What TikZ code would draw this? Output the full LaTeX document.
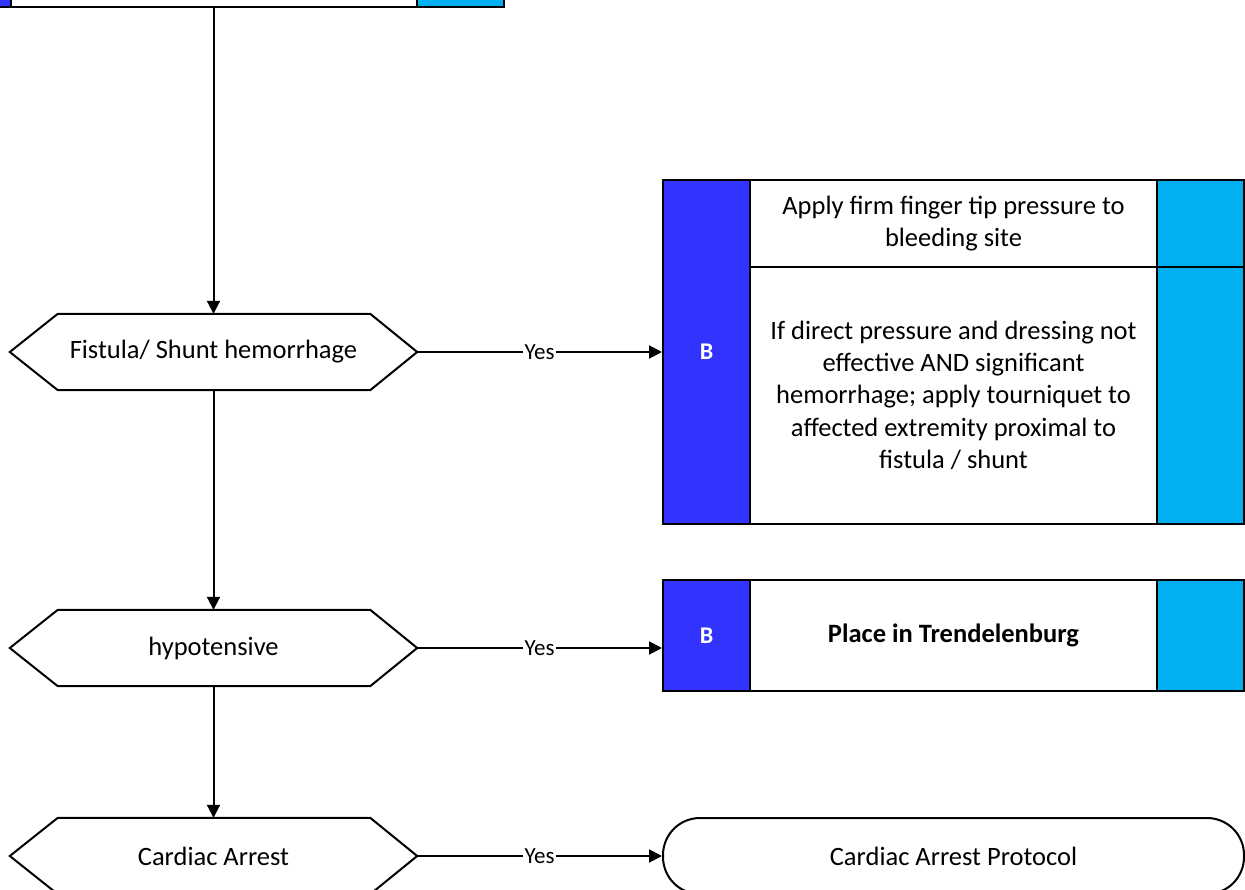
\documentclass[tikz,border=0pt]{standalone}
\usepackage{fontspec}
\setmainfont{Carlito}
\usetikzlibrary{arrows.meta}
\definecolor{bandblue}{RGB}{51,51,255}
\definecolor{bandcyan}{RGB}{0,176,240}
\newcommand\flowtext{\fontsize{26.5}{32.2}\selectfont}
\newcommand\labeltext{\fontsize{23}{27}\selectfont}
\newcommand\bandtext{\fontsize{24}{28}\selectfont\bfseries}

\begin{document}
\begin{tikzpicture}[x=1pt,y=-1pt,
  outline/.style={draw=black, line width=2pt},
  cell/.style={outline, rectangle, inner sep=0pt, fill=white, align=center, font=\flowtext},
  band/.style={cell, fill=bandblue, text=white, font=\bandtext, minimum width=87pt},
  tab/.style={cell, fill=bandcyan, minimum width=87pt},
  decision/.style={rectangle, inner sep=0pt, minimum width=407pt, minimum height=76pt, font=\flowtext},
  hexline/.style={outline, fill=white, line join=miter},
  terminal/.style={cell, rounded corners=37pt, minimum width=581pt, minimum height=76pt},
  flow/.style={line width=2pt, -{Triangle[length=13pt,width=13pt]}},
  yes/.style={fill=white, inner sep=1.5pt, font=\labeltext}
]
\useasboundingbox (0,0) rectangle (1245,890);
\clip (0,0) rectangle (1245,890);

% step box running off the top edge
\node[band, minimum height=90pt] (topL) at (-32.6,-38) {};
\node[cell, minimum width=406.3pt, minimum height=90pt] (topM) at (213.85,-38) {};
\node[tab, minimum width=86.7pt, minimum height=90pt] (topR) at (460.35,-38) {};

% decisions
\node[decision] (h1) at (213.5,352) {};
\node[decision] (h2) at (213.5,648) {};
\node[decision] (h3) at (213.5,856) {};
\foreach \h in {h1,h2,h3}{
  \draw[hexline] (\h.west) -- ([xshift=48pt]\h.north west) -- ([xshift=-47pt]\h.north east)
    -- (\h.east) -- ([xshift=-47pt]\h.south east) -- ([xshift=48pt]\h.south west) -- cycle;
}
\node[decision] at (h1) {Fistula/ Shunt hemorrhage};
\node[decision] at (h2) {hypotensive};
\node[decision] at (h3) {Cardiac Arrest};

% bleeding control box
\node[band, minimum height=344pt] (b1B) at (706.5,352) {B};
\node[cell, minimum width=407pt, minimum height=86.7pt] (b1T) at (953.5,223.35)
  {Apply firm finger tip pressure to\\bleeding site};
\node[cell, minimum width=407pt, minimum height=257.3pt] (b1M) at (953.5,395.35)
  {If direct pressure and dressing not\\effective AND significant\\hemorrhage; apply tourniquet to\\affected extremity proximal to\\fistula / shunt};
\node[tab, minimum height=86.7pt] (b1C1) at (1200.5,223.35) {};
\node[tab, minimum height=257.3pt] (b1C2) at (1200.5,395.35) {};

% positioning box
\node[band, minimum height=111pt] (b2B) at (706.5,635.5) {B};
\node[cell, minimum width=407pt, minimum height=111pt, font=\flowtext\bfseries] (b2M) at (953.5,635.5)
  {Place in Trendelenburg};
\node[tab, minimum height=111pt] (b2C) at (1200.5,635.5) {};

% protocol terminal
\node[terminal] (t1) at (953.5,856) {Cardiac Arrest Protocol};

% connectors
\draw[flow] (topM.south -| h1.north) -- (h1.north);
\draw[flow] (h1.south) -- (h2.north);
\draw[flow] (h2.south) -- (h3.north);
\draw[flow] (h1.east) -- node[yes] {Yes} (b1B.west |- h1.east);
\draw[flow] (h2.east) -- node[yes] {Yes} (b2B.west |- h2.east);
\draw[flow] (h3.east) -- node[yes] {Yes} (t1.west);
\end{tikzpicture}
\end{document}
